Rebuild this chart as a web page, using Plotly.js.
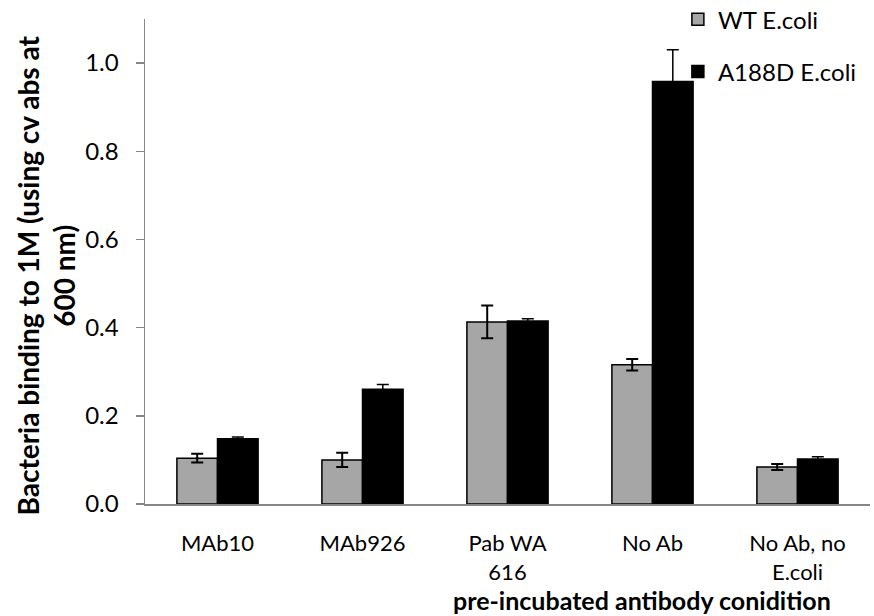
<!DOCTYPE html>
<html>
<head>
<meta charset="utf-8">
<script src="https://cdn.plot.ly/plotly-3.0.1.min.js"></script>
<style>html,body{margin:0;padding:0;background:#fff;}#chart{width:874px;height:616px;}</style>
</head>
<body>
<div id="chart"></div>
<script>
const categories = ["MAb10", "MAb926", "Pab WA<br>616", "No Ab", "No Ab, no<br>E.coli"];
const seriesNames = ["WT E.coli", "A188D E.coli"];
const wtValues = [0.104, 0.100, 0.413, 0.316, 0.084];
const wtErrors = [0.010, 0.016, 0.037, 0.013, 0.007];
const mutValues = [0.148, 0.260, 0.415, 0.958, 0.102];
const mutErrors = [0.004, 0.011, 0.005, 0.072, 0.005];
const yTitle = "Bacteria binding to 1M (using cv abs at<br>600 nm)";
const xTitle = "pre-incubated antibody conidition";

const font = "Lato, 'Open Sans', sans-serif";

const traces = [
  {
    type: "bar", name: seriesNames[0], x: categories, y: wtValues,
    legendgroup: "a",
    marker: {color: "#a6a6a6", line: {color: "#000", width: 1.5}},
    error_y: {type: "data", array: wtErrors, visible: true, color: "#000", thickness: 2, width: 6}
  },
  {
    type: "bar", name: seriesNames[1], x: categories, y: mutValues,
    legendgroup: "b",
    marker: {color: "#000", line: {color: "#000", width: 1.5}},
    error_y: {type: "data", array: mutErrors, visible: true, color: "#000", thickness: 1.5, width: 6}
  }
];

const layout = {
  width: 874, height: 616,
  margin: {l: 145, r: 4, t: 19, b: 112, autoexpand: false},
  paper_bgcolor: "#fff", plot_bgcolor: "#fff",
  font: {family: font, size: 22, color: "#000"},
  barmode: "group", bargap: 0.44, bargroupgap: 0,
  showlegend: true,
  legend: {x: 0.735, y: 1.045, xanchor: "left", yanchor: "top", traceorder: "grouped",
           tracegroupgap: 18, font: {family: font, size: 24, color: "#000"}, itemwidth: 30,
           bgcolor: "rgba(0,0,0,0)"},
  xaxis: {
    type: "category", showline: true, linecolor: "#868686", linewidth: 2,
    ticks: "", showgrid: false, zeroline: false, ticklabelstandoff: 19,
    tickfont: {family: font, size: 22, color: "#000"}
  },
  yaxis: {
    range: [0, 1.1], showline: true, linecolor: "#868686", linewidth: 1.5,
    ticks: "outside", ticklen: 8, tickcolor: "#868686", tickwidth: 1.5,
    dtick: 0.2, tickformat: ".1f", showgrid: false, zeroline: false,
    ticklabelstandoff: 12,
    tickfont: {family: font, size: 24, color: "#000"}
  },
  annotations: [
    {text: "<b>" + xTitle + "</b>", xref: "paper", yref: "paper", x: 0.685, y: 0, yshift: -96,
     xanchor: "center", yanchor: "middle", showarrow: false, borderpad: 0,
     font: {family: font, size: 25, color: "#000"}},
    {text: "<b>" + yTitle + "</b>", xref: "paper", yref: "paper", x: 0, y: 0.5, xshift: -100, yshift: -14,
     xanchor: "center", yanchor: "middle", showarrow: false, textangle: -90,
     font: {family: font, size: 28, color: "#000"}}
  ]
};

Plotly.newPlot("chart", traces, layout, {displayModeBar: false, staticPlot: true});
</script>
</body>
</html>
